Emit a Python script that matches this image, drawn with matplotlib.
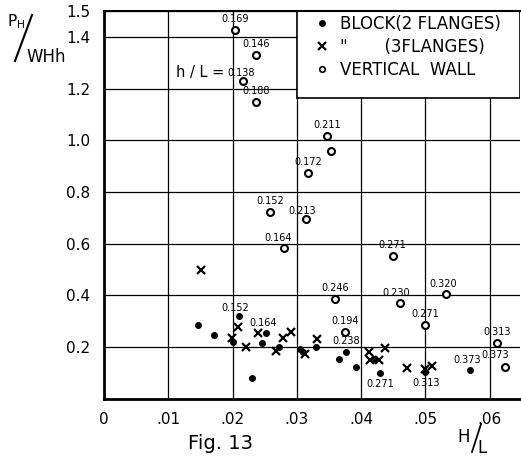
import matplotlib
matplotlib.use("Agg")
import matplotlib.pyplot as plt
from matplotlib.lines import Line2D
from matplotlib.patches import Rectangle

# vertical wall (open circles), with h/L values
wall_x = [0.0204, 0.0236, 0.0216, 0.0236, 0.0347, 0.0353, 0.0317, 0.0258, 0.0314,
          0.0280, 0.0449, 0.0359, 0.0460, 0.0532, 0.0500, 0.0375, 0.0612, 0.0623]
wall_y = [1.425, 1.328, 1.231, 1.146, 1.017, 0.959, 0.874, 0.723, 0.696,
          0.584, 0.553, 0.386, 0.371, 0.405, 0.285, 0.258, 0.216, 0.123]
wall_hl = ["0.169", "0.146", "0.138", "0.188", "0.211", "", "0.172", "0.152", "0.213",
           "0.164", "0.271", "0.246", "0.230", "0.320", "0.271", "0.194", "0.313", "0.373"]

# block, 2 flanges (filled dots)
block_x = [0.0146, 0.0171, 0.0210, 0.0201, 0.0252, 0.0246, 0.0230, 0.0272, 0.0305,
           0.0310, 0.0330, 0.0376, 0.0365, 0.0392, 0.0422, 0.0429, 0.0500, 0.0570]
block_y = [0.285, 0.247, 0.320, 0.219, 0.254, 0.216, 0.080, 0.200, 0.192,
           0.181, 0.200, 0.181, 0.153, 0.123, 0.153, 0.099, 0.103, 0.111]
block_hl = ["", "", "0.152", "", "0.164", "", "", "", "",
            "", "", "0.238", "", "", "", "0.271", "0.313", "0.373"]

# block, 3 flanges (crosses)
fl3_x = [0.0151, 0.0199, 0.0208, 0.0221, 0.0240, 0.0267, 0.0278, 0.0291, 0.0313,
         0.0331, 0.0412, 0.0414, 0.0428, 0.0437, 0.0471, 0.0499, 0.0510]
fl3_y = [0.498, 0.235, 0.277, 0.200, 0.254, 0.185, 0.235, 0.258, 0.173,
         0.231, 0.181, 0.150, 0.150, 0.196, 0.119, 0.115, 0.126]

x_ticks = [0, 0.01, 0.02, 0.03, 0.04, 0.05, 0.06]
x_labels = ["0", ".01", ".02", ".03", ".04", ".05", ".06"]
y_ticks = [0.2, 0.4, 0.6, 0.8, 1.0, 1.2, 1.4, 1.5]
y_labels = ["0.2", "0.4", "0.6", "0.8", "1.0", "1.2", "1.4", "1.5"]

# label offsets in pixels (default: centred above the mark)
wall_off = {2: (-2, 8), 8: (-4, 8), 9: (-6, 10), 12: (-4, 10), 13: (-3, 10), 17: (-9, 12)}
block_off = {2: (-4, 8), 4: (-3, 10), 15: (0, -11), 16: (1, -11), 17: (-3, 10)}

W, H = 521, 461


def fx(px):
    return px / W


def fy(py):
    return 1 - py / H


fig = plt.figure(figsize=(5.21, 4.61), dpi=100)
ax = fig.add_axes([fx(104), fy(398.6), 416 / W, 387.6 / H])
ax.set_xlim(0, 0.0647)
ax.set_ylim(0, 1.5)
ax.set_axisbelow(True)
ax.grid(True, color="black", linewidth=0.9)

ax.set_xticks(x_ticks)
ax.set_xticklabels(x_labels, fontsize=11)
ax.set_yticks(y_ticks)
ax.set_yticklabels(y_labels, fontsize=11)
ax.tick_params(length=0, pad=10)
ax.spines["left"].set_linewidth(2)
ax.spines["bottom"].set_linewidth(2)
ax.spines["top"].set_linewidth(1.5)
ax.spines["right"].set_visible(False)

# white box for the key, covering the grid
ax.add_patch(Rectangle((0.03, 1.165), 0.0647 - 0.03, 0.4, facecolor="white",
                       edgecolor="black", linewidth=1.2, zorder=1))

ax.plot(block_x, block_y, "o", color="black", markersize=4, zorder=3)
ax.plot(fl3_x, fl3_y, "x", color="black", markersize=6, mew=1.6, zorder=3)
ax.plot(wall_x, wall_y, "o", mfc="white", mec="black", markersize=5, mew=1.5, zorder=3)

for i, t in enumerate(wall_hl):
    if t:
        ax.annotate(t, (wall_x[i], wall_y[i]), xytext=wall_off.get(i, (0, 11)),
                    textcoords="offset pixels", ha="center", va="center", fontsize=7)
for i, t in enumerate(block_hl):
    if t:
        ax.annotate(t, (block_x[i], block_y[i]), xytext=block_off.get(i, (0, 11)),
                    textcoords="offset pixels", ha="center", va="center", fontsize=7)

ax.text(0.0194, 1.262, "h / L = ", ha="right", va="center", fontsize=10.5)

handles = [Line2D([], [], ls="", marker="o", color="black", markersize=4),
           Line2D([], [], ls="", marker="x", color="black", markersize=6, mew=1.6),
           Line2D([], [], ls="", marker="o", mfc="white", mec="black", markersize=4, mew=1.2)]
ax.legend(handles, ["BLOCK(2 FLANGES)", '"       (3FLANGES)', "VERTICAL  WALL"],
          loc="upper left", bbox_to_anchor=(0.505, 0.99), frameon=False,
          fontsize=12, handlelength=1, handletextpad=0.55, labelspacing=0.3,
          borderpad=0, borderaxespad=0)

# axis titles drawn the way the figure has them
fig.text(fx(7), fy(22), r"P$_{\rm H}$", fontsize=11, va="center")
fig.add_artist(Line2D([fx(15), fx(32)], [fy(61), fy(15)], color="black", lw=1.5,
                      transform=fig.transFigure))
fig.text(fx(26), fy(57), "WHh", fontsize=12, va="center")
fig.text(fx(457), fy(437), "H", fontsize=12, va="center")
fig.add_artist(Line2D([fx(472), fx(481)], [fy(452), fy(424)], color="black", lw=1.3,
                      transform=fig.transFigure))
fig.text(fx(477), fy(448), "L", fontsize=12, va="center")
fig.text(fx(220), fy(443), "Fig. 13", fontsize=14, ha="center", va="center")

fig.savefig("out.png", dpi=100)
